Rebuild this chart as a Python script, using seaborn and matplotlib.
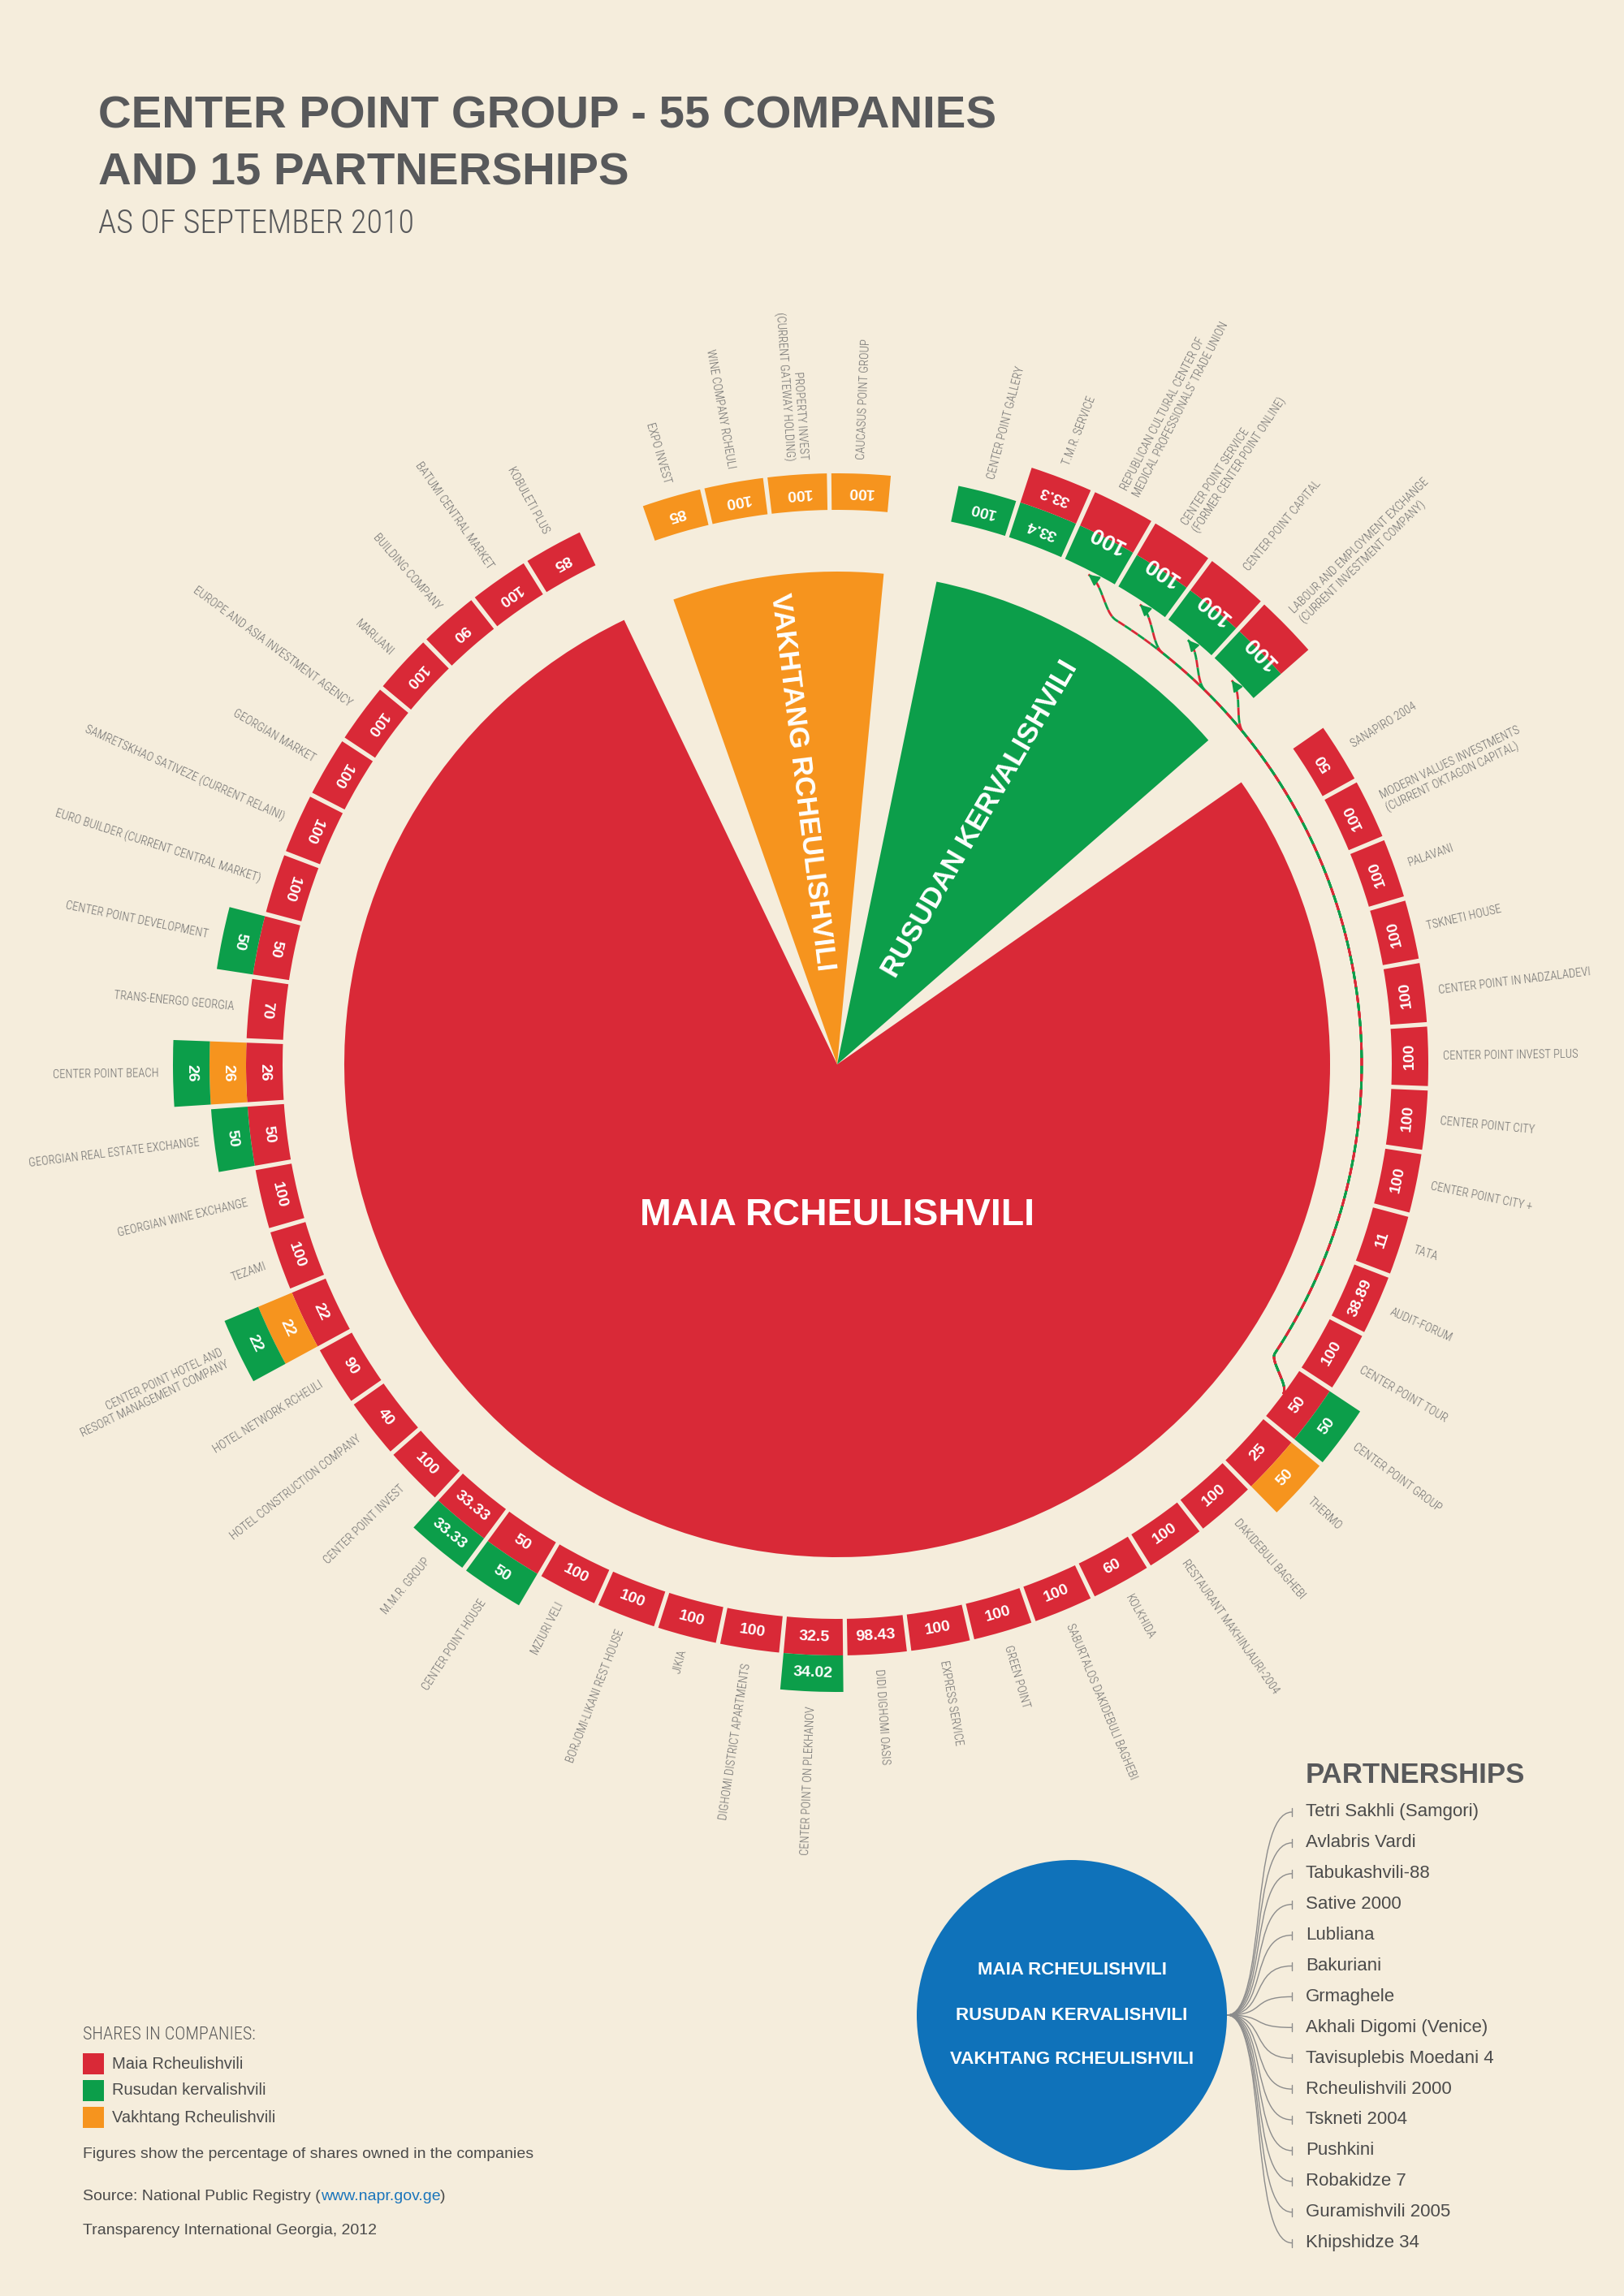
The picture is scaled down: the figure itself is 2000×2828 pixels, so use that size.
import numpy as np
import matplotlib
matplotlib.use("Agg")
import matplotlib.pyplot as plt
from matplotlib import font_manager
from matplotlib.patches import Circle, Rectangle, PathPatch
from matplotlib.path import Path
import seaborn as sns

N = None

# ---------- Owners ----------
owners = ["Maia Rcheulishvili", "Rusudan kervalishvili", "Vakhtang Rcheulishvili"]
owner_hex = ["#D92937", "#0C9E4A", "#F6941E"]

# ---------- Pie: companies grouped by main owner (clockwise from top) ----------
group_owner = ["Vakhtang Rcheulishvili", "Rusudan kervalishvili", "Maia Rcheulishvili"]
group_size = [4, 6, 45]
group_title = ["VAKHTANG RCHEULISHVILI", "RUSUDAN KERVALISHVILI", "MAIA RCHEULISHVILI"]

# ---------- Companies, clockwise from the top ----------
companies = [
    "EXPO INVEST",
    "WINE COMPANY RCHEULI",
    "PROPERTY INVEST\n(CURRENT GATEWAY HOLDING)",
    "CAUCASUS POINT GROUP",
    "CENTER POINT GALLERY",
    "T.M.R. SERVICE",
    "REPUBLICAN CULTURAL CENTER OF\nMEDICAL PROFESSIONALS\u2019 TRADE UNION",
    "CENTER POINT SERVICE\n(FORMER CENTER POINT ONLINE)",
    "CENTER POINT CAPITAL",
    "LABOUR AND EMPLOYMENT EXCHANGE\n(CURRENT INVESTMENT COMPANY)",
    "SANAPIRO 2004",
    "MODERN VALUES INVESTMENTS\n(CURRENT OKTAGON CAPITAL)",
    "PALAVANI",
    "TSKNETI HOUSE",
    "CENTER POINT IN NADZALADEVI",
    "CENTER POINT INVEST PLUS",
    "CENTER POINT CITY",
    "CENTER POINT CITY +",
    "TATA",
    "AUDIT-FORUM",
    "CENTER POINT TOUR",
    "CENTER POINT GROUP",
    "THERMO",
    "DAKIDEBULI BAGHEBI",
    "RESTAURANT MAKHINJAURI-2004",
    "KOLKHIDA",
    "SABURTALOS DAKIDEBULI BAGHEBI",
    "GREEN POINT",
    "EXPRESS SERVICE",
    "DIDI DIGHOMI OASIS",
    "CENTER POINT ON PLEKHANOV",
    "DIGHOMI DISTRICT APARTMENTS",
    "JIKIA",
    "BORJOMI-LIKANI REST HOUSE",
    "MZIURI VELI",
    "CENTER POINT HOUSE",
    "M.M.R. GROUP",
    "CENTER POINT INVEST",
    "HOTEL CONSTRUCTION COMPANY",
    "HOTEL NETWORK RCHEULI",
    "CENTER POINT HOTEL AND\nRESORT MANAGEMENT COMPANY",
    "TEZAMI",
    "GEORGIAN WINE EXCHANGE",
    "GEORGIAN REAL ESTATE EXCHANGE",
    "CENTER POINT BEACH",
    "TRANS-ENERGO GEORGIA",
    "CENTER POINT DEVELOPMENT",
    "EURO BUILDER (CURRENT CENTRAL MARKET)",
    "SAMRETSKHAO SATIVEZE (CURRENT RELAINI)",
    "GEORGIAN MARKET",
    "EUROPE AND ASIA INVESTMENT AGENCY",
    "MARIJANI",
    "BUILDING COMPANY",
    "BATUMI CENTRAL MARKET",
    "KOBULETI PLUS",
]

# share (%) held by each owner, None = no stake
maia_share = [
    N, N, N, N,
    N, 33.3, 100, 100, 100, 100,
    50, 100, 100, 100, 100, 100, 100, 100, 11, 38.89,
    100, 50, 25, 100, 100, 60, 100, 100, 100, 98.43,
    32.5, 100, 100, 100, 100, 50, 33.33, 100, 40, 90,
    22, 100, 100, 50, 26, 70, 50, 100, 100, 100,
    100, 100, 90, 100, 85,
]
rusudan_share = [
    N, N, N, N,
    100, 33.4, 100, 100, 100, 100,
    N, N, N, N, N, N, N, N, N, N,
    N, 50, N, N, N, N, N, N, N, N,
    34.02, N, N, N, N, 50, 33.33, N, N, N,
    22, N, N, 50, 26, N, 50, N, N, N,
    N, N, N, N, N,
]
vakhtang_share = [
    85, 100, 100, 100,
    N, N, N, N, N, N,
    N, N, N, N, N, N, N, N, N, N,
    N, N, 50, N, N, N, N, N, N, N,
    N, N, N, N, N, N, N, N, N, N,
    22, N, N, N, 26, N, N, N, N, N,
    N, N, N, N, N,
]

# ownership link drawn with dashed arrows
linked_from = "CENTER POINT GROUP"
linked_to = [companies[6], companies[7], companies[8], companies[9]]

partnerships = [
    "Tetri Sakhli (Samgori)", "Avlabris Vardi", "Tabukashvili-88", "Sative 2000",
    "Lubliana", "Bakuriani", "Grmaghele", "Akhali Digomi (Venice)",
    "Tavisuplebis Moedani 4", "Rcheulishvili 2000", "Tskneti 2004", "Pushkini",
    "Robakidze 7", "Guramishvili 2005", "Khipshidze 34",
]

# ---------- Layout / style ----------
W, H = 2000, 2828
CX, CY = 1031, 1311
R_MAX = 1000
R_PIE = 607
R_RING = 683
LAYER = 45
LABEL_PAD = 18
R_LINK = 646
FIRST_SLOT = -16.3

BG = "#F5EDDC"
INK = "#58595B"
GREY = "#6F6F6F"
BLUE = "#0F72BA"
BOLD = ["Liberation Sans", "DejaVu Sans"]
SANS = ["Liberation Sans", "DejaVu Sans"]

installed = {f.name for f in font_manager.fontManager.ttflist}
if "Roboto Condensed" in installed:
    THIN, THIN_SCALE = ["Roboto Condensed", "DejaVu Sans"], 1.12
else:
    THIN, THIN_SCALE = ["Roboto", "Liberation Sans", "DejaVu Sans"], 1.0

sns.set_theme(style="white", rc={"figure.facecolor": BG, "axes.facecolor": BG,
                                 "savefig.facecolor": BG})
plt.rcParams["font.family"] = SANS
palette = dict(zip(owners, sns.color_palette(owner_hex)))
shares = {"Maia Rcheulishvili": maia_share,
          "Rusudan kervalishvili": rusudan_share,
          "Vakhtang Rcheulishvili": vakhtang_share}
layer_order = ["Maia Rcheulishvili", "Vakhtang Rcheulishvili", "Rusudan kervalishvili"]

# one slot per company plus one empty slot after each owner group
step = 360 / (len(companies) + len(group_size))
angle, main_owner = [], []
i = 0
for g, n in enumerate(group_size):
    for _ in range(n):
        angle.append(FIRST_SLOT + (i + g) * step)
        main_owner.append(group_owner[g])
        i += 1
angle = np.array(angle)

fig = plt.figure(figsize=(W / 100, H / 100), dpi=100)
ax = fig.add_axes([0, 0, 1, 1])
ax.set_xlim(0, W)
ax.set_ylim(H, 0)
ax.axis("off")

pax = fig.add_axes([(CX - R_MAX) / W, (H - CY - R_MAX) / H, 2 * R_MAX / W, 2 * R_MAX / H],
                   projection="polar")
pax.set_theta_zero_location("N")
pax.set_theta_direction(-1)
pax.set_ylim(0, R_MAX)
pax.axis("off")

# ---------- Centre pie ----------
first = np.cumsum([0] + group_size[:-1]) + np.arange(len(group_size))
centres = FIRST_SLOT + (first + (np.array(group_size) - 1) / 2) * step
pax.bar(np.deg2rad(centres), R_PIE, width=np.deg2rad(np.array(group_size) * step),
        bottom=0, color=[palette[o] for o in group_owner], linewidth=0)

for g, title in enumerate(group_title):
    if group_owner[g] == "Maia Rcheulishvili":
        pax.text(np.pi, 186, title, ha="center", va="center", color="white",
                 fontsize=33.5, fontweight="bold", family=BOLD)
        continue
    a = centres[g] % 360
    rot = 90 - a if a < 180 else 270 - a
    pax.text(np.deg2rad(a), 350, title, rotation=rot, rotation_mode="anchor",
             ha="center", va="center", color="white", fontsize=25,
             fontweight="bold", family=BOLD)

# ---------- Ring of companies ----------
seg_w = np.deg2rad(step * 0.93)
for k, name in enumerate(companies):
    order = [main_owner[k]] + [o for o in layer_order if o != main_owner[k]]
    layers = [(o, shares[o][k]) for o in order if shares[o][k] is not None]
    th = np.deg2rad(angle[k])
    joint = len(layers) > 1 and all(v == 100 for _, v in layers)
    for l, (o, v) in enumerate(layers):
        pax.bar(th, LAYER, width=seg_w, bottom=R_RING + l * LAYER,
                color=palette[o], linewidth=0)
        if not joint:
            pax.text(th, R_RING + (l + 0.5) * LAYER, f"{v:g}", rotation=180 - angle[k],
                     rotation_mode="anchor", ha="center", va="center", color="white",
                     fontsize=14, fontweight="bold", family=BOLD)
    if joint:
        pax.text(th, R_RING + LAYER, "100", rotation=180 - angle[k],
                 rotation_mode="anchor", ha="center", va="center", color="white",
                 fontsize=20, fontweight="bold", family=BOLD)

    a = angle[k] % 360
    if a < 180:
        rot, ha = 90 - a, "left"
    else:
        rot, ha = 270 - a, "right"
    pax.text(th, R_RING + len(layers) * LAYER + LABEL_PAD, name, rotation=rot,
             rotation_mode="anchor", ha=ha, va="center", multialignment=ha,
             fontsize=9.4 * THIN_SCALE, color=GREY, family=THIN, fontweight="light")


# ---------- Dashed ownership links ----------
def smooth(t):
    t = np.clip(t, 0, 1)
    return t * t * (3 - 2 * t)


a_s = angle[companies.index(linked_from)]
for name in linked_to:
    a_t = angle[companies.index(name)]
    a = np.linspace(a_s, a_t, 500)
    hook = 1 - smooth((a_s - a) / 3)
    rise = 1 - smooth((a - a_t) / 5)
    r = R_LINK + (R_RING - R_LINK) * hook + (R_RING - 5 - R_LINK) * rise
    th = np.deg2rad(a)
    pax.plot(th, r, color=palette["Maia Rcheulishvili"], lw=2, linestyle=(0, (3.5, 3.5)))
    pax.plot(th, r, color=palette["Rusudan kervalishvili"], lw=2, linestyle=(3.5, (3.5, 3.5)))
    pax.annotate("", xy=(th[-1], r[-1]), xytext=(th[-4], r[-4]),
                 arrowprops=dict(arrowstyle="-|>", color=palette["Rusudan kervalishvili"],
                                 lw=1.5, mutation_scale=20, shrinkA=0, shrinkB=0))

# ---------- Title ----------
ax.text(121, 157, "CENTER POINT GROUP - 55 COMPANIES", fontsize=40.6, fontweight="bold",
        family=BOLD, color=INK, va="baseline")
ax.text(121, 227, "AND 15 PARTNERSHIPS", fontsize=40.6, fontweight="bold",
        family=BOLD, color=INK, va="baseline")
ax.text(121, 287, "AS OF SEPTEMBER 2010", fontsize=27.6 * min(THIN_SCALE, 1.05),
        family=THIN, fontweight="light", color=INK, va="baseline")

# ---------- Legend and notes ----------
ax.text(102, 2506, "SHARES IN COMPANIES:", va="center", fontsize=15.2 * min(THIN_SCALE, 1.05),
        color="#5A5A5A", family=THIN, fontweight="light")
for j, o in enumerate(owners):
    y = 2542 + j * 33
    ax.add_patch(Rectangle((102, y - 13), 26, 26, color=palette[o], lw=0))
    ax.text(138, y, o, va="center", fontsize=14.5, family=SANS, color="#4B4B4B")

ax.text(102, 2653, "Figures show the percentage of shares owned in the companies",
        va="center", fontsize=14, family=SANS, color="#4B4B4B")
src = ax.text(102, 2705, "Source: National Public Registry (", va="center", fontsize=14,
              family=SANS, color="#4B4B4B")
x_end = ax.transData.inverted().transform((src.get_window_extent().x1, 0))[0]
url = ax.text(x_end, 2705, "www.napr.gov.ge", va="center", fontsize=14,
              family=SANS, color="#1B75BB")
x_end = ax.transData.inverted().transform((url.get_window_extent().x1, 0))[0]
ax.text(x_end, 2705, ")", va="center", fontsize=14, family=SANS, color="#4B4B4B")
ax.text(102, 2747, "Transparency International Georgia, 2012", va="center", fontsize=14,
        family=SANS, color="#4B4B4B")

# ---------- Partnerships ----------
ax.add_patch(Circle((1320, 2482), 191, color=BLUE, lw=0))
for j, o in enumerate(owners):
    ax.text(1320, 2427 + j * 55, o.upper(), ha="center", va="center", color="white",
            fontsize=16, fontweight="bold", family=BOLD)

ax.text(1608, 2186, "PARTNERSHIPS", va="center", fontsize=25, fontweight="bold",
        family=BOLD, color=INK)
x0, y0 = 1511, 2482
for j, p in enumerate(partnerships):
    y = 2232 + j * 37.9
    verts = [(x0, y0), (x0 + 50, y0), (1538, y), (1591, y)]
    path = Path(verts, [Path.MOVETO, Path.CURVE4, Path.CURVE4, Path.CURVE4])
    ax.add_patch(PathPatch(path, fc="none", ec="#8C8C8C", lw=1))
    ax.plot([1591, 1591], [y - 5, y + 5], color="#8C8C8C", lw=1)
    ax.text(1608, y, p, va="center", fontsize=16, family=SANS, color="#4B4B4B")

fig.savefig("out.png", dpi=100, facecolor=BG)
